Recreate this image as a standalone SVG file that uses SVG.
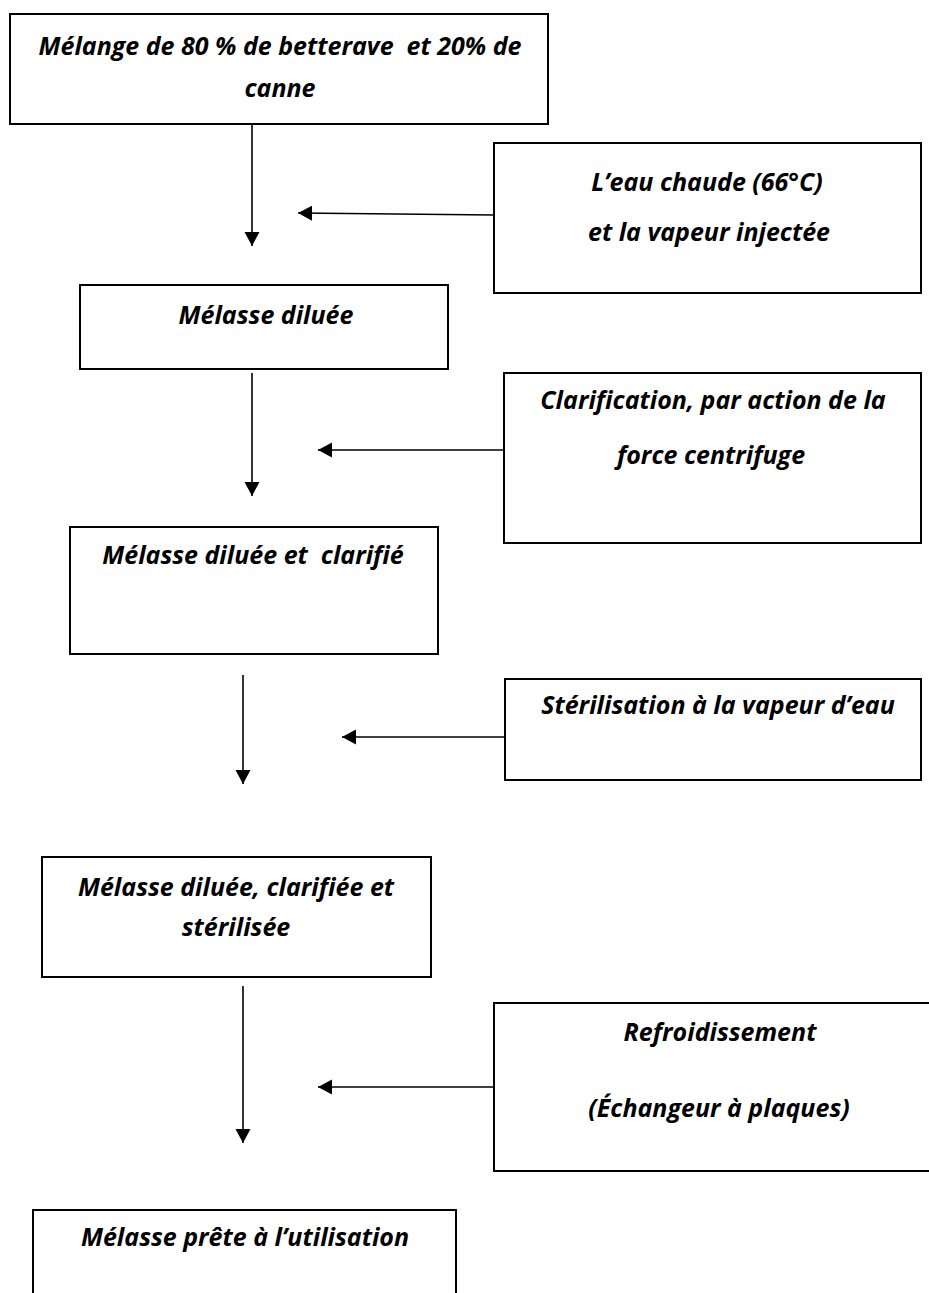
<svg xmlns="http://www.w3.org/2000/svg" width="929" height="1293" viewBox="0 0 929 1293">
<style>
.box{fill:#fff;stroke:#000;stroke-width:2}
.t{font-family:"Open Sans","Liberation Sans",sans-serif;font-weight:bold;font-style:italic;font-size:25px;fill:#000;text-anchor:middle;white-space:pre}
.c{stroke:#000;stroke-width:1.6;fill:none;marker-end:url(#ah)}
</style>
<defs>
<marker id="ah" markerUnits="userSpaceOnUse" markerWidth="16" markerHeight="16" refX="14" refY="7.5" orient="auto" viewBox="0 0 16 16">
<path d="M0,0 L14,7.5 L0,15 z" fill="#000"/>
</marker>
</defs>
<rect width="929" height="1293" fill="#fff"/>
<g id="n1"><rect class="box" x="10" y="14" width="538" height="110"/>
<text class="t" x="280" y="55" xml:space="preserve">Mélange de 80 % de betterave  et 20% de</text>
<text class="t" x="280" y="97">canne</text></g>
<g id="n2"><rect class="box" x="494" y="143" width="427" height="150"/>
<text class="t" x="707" y="191">L’eau chaude (66°C)</text>
<text class="t" x="709" y="241">et la vapeur injectée</text></g>
<g id="n3"><rect class="box" x="80" y="285" width="368" height="84"/>
<text class="t" x="266" y="324">Mélasse diluée</text></g>
<g id="n4"><rect class="box" x="504" y="373" width="417" height="170"/>
<text class="t" x="713" y="409">Clarification, par action de la</text>
<text class="t" x="711" y="464">force centrifuge</text></g>
<g id="n5"><rect class="box" x="70" y="527" width="368" height="127"/>
<text class="t" x="253" y="564" xml:space="preserve">Mélasse diluée et  clarifié</text></g>
<g id="n6"><rect class="box" x="505" y="679" width="416" height="101"/>
<text class="t" x="718" y="714">Stérilisation à la vapeur d’eau</text></g>
<g id="n7"><rect class="box" x="42" y="857" width="389" height="120"/>
<text class="t" x="236" y="896">Mélasse diluée, clarifiée et</text>
<text class="t" x="236" y="936">stérilisée</text></g>
<g id="n8"><rect class="box" x="494" y="1003" width="450" height="168"/>
<text class="t" x="720" y="1041">Refroidissement</text>
<text class="t" x="719" y="1117">(Échangeur à plaques)</text></g>
<g id="n9"><rect class="box" x="33" y="1210" width="423" height="100"/>
<text class="t" x="245" y="1246">Mélasse prête à l’utilisation</text></g>
<g id="connectors">
<line class="c" x1="252" y1="124" x2="252" y2="246"/>
<line class="c" x1="494" y1="215" x2="298" y2="213"/>
<line class="c" x1="252" y1="373" x2="252" y2="496"/>
<line class="c" x1="504" y1="450" x2="318" y2="450"/>
<line class="c" x1="243" y1="675" x2="243" y2="784"/>
<line class="c" x1="505" y1="737" x2="342" y2="737"/>
<line class="c" x1="243" y1="986" x2="243" y2="1143"/>
<line class="c" x1="494" y1="1087" x2="318" y2="1087"/>
</g>
</svg>
